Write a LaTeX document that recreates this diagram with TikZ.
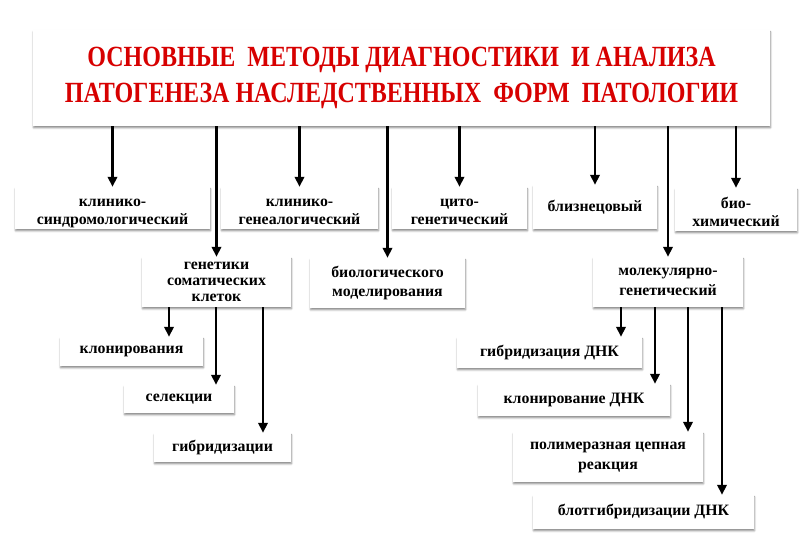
\documentclass[tikz,border=0pt]{standalone}
\usepackage{fontspec}
\setmainfont{Liberation Serif}
\newfontfamily\titlefont[FakeStretch=0.82]{Liberation Serif}
\usetikzlibrary{arrows.meta,shadows.blur}
\definecolor{titlered}{RGB}{215,0,0}

\begin{document}
\begin{tikzpicture}[x=0.03cm, y=-0.03cm,
    box/.style={fill=white, inner sep=0pt, align=center, font=\fontsize{13.5}{17}\selectfont\bfseries,
        blur shadow={shadow xshift=0.4pt, shadow yshift=-1.6pt, shadow blur radius=1.6pt, shadow opacity=45}},
    txt/.style={inner sep=0pt, align=center, font=\fontsize{13.5}{15.4}\selectfont\bfseries},
    sz/.style 2 args={minimum width=#1*0.03cm, minimum height=#2*0.03cm},
    arr/.style={-{Triangle[length=8.5pt,width=8pt]}, line width=2.5pt}
]
\useasboundingbox (0,0) rectangle (810,540);

\node[box, sz={737}{96}, font=\titlefont\bfseries\fontsize{25}{31}\selectfont, text=titlered] (title) at (401.5,78)
    {ОСНОВНЫЕ \ МЕТОДЫ ДИАГНОСТИКИ \ И АНАЛИЗА\\ПАТОГЕНЕЗА НАСЛЕДСТВЕННЫХ \ ФОРМ \ ПАТОЛОГИИ};

\node[box, sz={195}{42}] (sind) at (112.5,208) {};
\node[box, sz={157}{42}] (geneal) at (299.5,208) {};
\node[box, sz={135}{42}] (cito) at (459.5,208) {};
\node[box, sz={124}{44}] (twin) at (595,207) {близнецовый};
\node[box, sz={122}{43}] (bioch) at (736,209.5) {};
\node[txt] (sindt) at (112.5,213) {клинико-\\синдромологический};
\node[txt] (genealt) at (299.5,212) {клинико-\\генеалогический};
\node[txt] (citot) at (459.5,211.5) {цито-\\генетический};
\node[txt] (biocht) at (736,211.5) {био-\\химический};

\node[box, sz={149}{50}, font=\fontsize{13.5}{13.7}\selectfont\bfseries] (gen) at (216.5,282) {генетики\\соматических\\клеток};
\node[box, sz={155}{50}] (model) at (387.5,283) {биологического\\моделирования};
\node[box, sz={150}{50}] (mol) at (668,282) {молекулярно-\\генетический};

\node[box, sz={143}{29}] (klon) at (131.5,351.5) {клонирования};
\node[box, sz={110}{28}] (sel) at (179,399) {селекции};
\node[box, sz={137}{29}] (hyb) at (222.5,447.5) {гибридизации};

\node[box, sz={185}{31}] (hdna) at (549.5,352.5) {гибридизация ДНК};
\node[box, sz={192}{32}] (kdna) at (574,400) {клонирование ДНК};
\node[box, sz={190}{50}] (pcr) at (608,457) {полимеразная цепная\\реакция};
\node[box, sz={221}{34}] (blot) at (643.5,512) {блотгибридизации ДНК};

\foreach \n in {sind,geneal,cito,twin,bioch,gen,model,mol}
    \draw[arr] (title.south -| \n.north) -- (\n.north);

\coordinate (g1) at (169,0);
\coordinate (g2) at (216,0);
\coordinate (g3) at (263,0);
\draw[arr] (gen.south -| g1) -- (klon.north -| g1);
\draw[arr] (gen.south -| g2) -- (sel.north -| g2);
\draw[arr] (gen.south -| g3) -- (hyb.north -| g3);

\coordinate (m1) at (621,0);
\coordinate (m2) at (655,0);
\coordinate (m3) at (688,0);
\coordinate (m4) at (722,0);
\draw[arr] (mol.south -| m1) -- (hdna.north -| m1);
\draw[arr] (mol.south -| m2) -- (kdna.north -| m2);
\draw[arr] (mol.south -| m3) -- (pcr.north -| m3);
\draw[arr] (mol.south -| m4) -- (blot.north -| m4);
\end{tikzpicture}
\end{document}
